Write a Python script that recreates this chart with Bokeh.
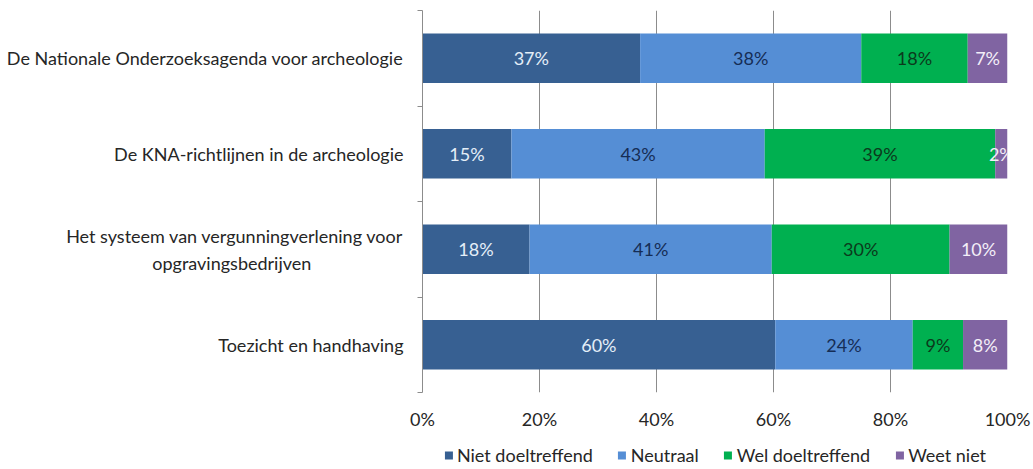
from bokeh.plotting import figure
from bokeh.layouts import column
from bokeh.models import (ColumnDataSource, FixedTicker, LinearAxis, Legend, LegendItem,
                          PrintfTickFormatter, Range1d)
from bokeh.core.properties import value
from bokeh.embed import file_html
from bokeh.resources import INLINE

categories = ["De Nationale Onderzoeksagenda voor archeologie",
              "De KNA-richtlijnen in de archeologie",
              "Het systeem van vergunningverlening voor\nopgravingsbedrijven",
              "Toezicht en handhaving"]
series = ["Niet doeltreffend", "Neutraal", "Wel doeltreffend", "Weet niet"]
niet_doeltreffend = [37.2, 15.2, 18.3, 60.3]
neutraal = [37.8, 43.3, 41.4, 23.5]
wel_doeltreffend = [18.2, 39.4, 30.4, 8.6]
weet_niet = [6.8, 2.1, 9.9, 7.6]
x_ticks = [0, 20, 40, 60, 80, 100]

colors = ["#376092", "#558ED5", "#00B050", "#8064A2"]
label_colors = ["#E4EEF8", "#152D55", "#0B3A1C", "#F3EEF8"]
FONT = "Lato"
FS = "18px"
TEXT = "#262626"
GRID = "#8C8C8C"

n = len(categories)
ypos = [n - i - 0.5 for i in range(n)]
values = [niet_doeltreffend, neutraal, wel_doeltreffend, weet_niet]
data = {"y": ypos}
for s, v in zip(series, values):
    data[s] = v
source = ColumnDataSource(data)

p = figure(width=1033, height=440, output_backend="svg", toolbar_location=None,
           x_range=Range1d(0, 100), y_range=Range1d(0, n),
           min_border_left=422, min_border_right=26, min_border_top=10, min_border_bottom=48,
           x_axis_location=None, y_axis_location=None)
p.outline_line_color = None
p.background_fill_color = "white"
p.border_fill_color = "white"

renderers = p.hbar_stack(series, y="y", height=0.52, color=colors, source=source, line_color=None)

# data labels
lx, ly, lt, lc = [], [], [], []
for i in range(n):
    start = 0
    for j, v in enumerate(values):
        val = v[i]
        lx.append(start + val / 2)
        ly.append(ypos[i])
        lt.append(f"{round(val)}%")
        lc.append(label_colors[j])
        start += val
p.text(x=lx, y=ly, text=lt, text_color=lc, text_align="center", text_baseline="middle",
       text_font=value(FONT), text_font_size=FS)

# x axis
xaxis = LinearAxis(ticker=FixedTicker(ticks=x_ticks), formatter=PrintfTickFormatter(format="%d%%"))
xaxis.axis_line_color = None
xaxis.major_tick_line_color = None
xaxis.minor_tick_line_color = None
xaxis.major_tick_in = 0
xaxis.major_tick_out = 0
xaxis.major_label_standoff = 15
xaxis.major_label_text_font = FONT
xaxis.major_label_text_font_size = FS
xaxis.major_label_text_color = TEXT
p.add_layout(xaxis, "below")


def centre_lines(label, pad=20):
    # second line of a wrapped label is centred under the first (right-aligned axis labels)
    lines = label.split("\n")
    if len(lines) == 1:
        return label
    return lines[0] + "\n" + lines[1] + "\u00a0" * pad


# y axis: category labels at centres, ticks at boundaries
yaxis = LinearAxis(ticker=FixedTicker(ticks=ypos, minor_ticks=list(range(n + 1))))
yaxis.major_label_overrides = {y: centre_lines(c) for y, c in zip(ypos, categories)}
yaxis.axis_line_color = GRID
yaxis.major_tick_line_color = None
yaxis.major_tick_in = 0
yaxis.major_tick_out = 0
yaxis.minor_tick_line_color = GRID
yaxis.minor_tick_out = 5
yaxis.minor_tick_in = 0
yaxis.major_label_standoff = 14
yaxis.major_label_text_font = FONT
yaxis.major_label_text_font_size = FS
yaxis.major_label_text_color = TEXT
yaxis.major_label_text_line_height = 1.25
p.add_layout(yaxis, "left")

p.xgrid.ticker = FixedTicker(ticks=x_ticks)
p.xgrid.grid_line_color = GRID
p.ygrid.grid_line_color = None

# legend strip below the chart (same series, bars kept out of view)
pl = figure(width=1033, height=29, output_backend="svg", toolbar_location=None,
            x_range=Range1d(0, 100), y_range=Range1d(100, 101),
            min_border_left=422, min_border_right=26, min_border_top=0, min_border_bottom=0,
            x_axis_location=None, y_axis_location=None)
pl.outline_line_color = None
pl.xgrid.grid_line_color = None
pl.ygrid.grid_line_color = None
leg_renderers = pl.hbar_stack(series, y="y", height=0.52, color=colors, source=source, line_color=None)

legend = Legend(items=[LegendItem(label=s, renderers=[r]) for s, r in zip(series, leg_renderers)],
                orientation="horizontal", location="center")
legend.border_line_color = None
legend.background_fill_alpha = 0
legend.glyph_width = 10
legend.glyph_height = 10
legend.label_standoff = 4
legend.spacing = 24
legend.padding = 0
legend.margin = 0
legend.label_height = 18
legend.label_text_font = FONT
legend.label_text_font_size = FS
legend.label_text_color = TEXT
pl.add_layout(legend, "center")

layout = column(p, pl, spacing=0)
open("out.html", "w").write(file_html(layout, INLINE))
